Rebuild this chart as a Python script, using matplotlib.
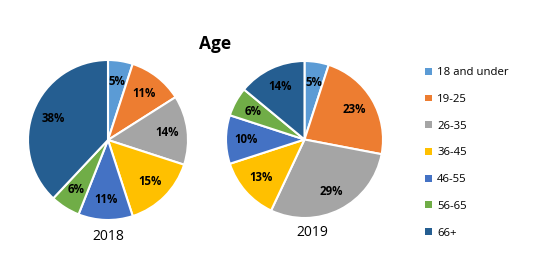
import matplotlib.pyplot as plt
from matplotlib.patches import Patch

plt.rcParams['font.family'] = ['Open Sans', 'DejaVu Sans']

# age groups and shares (%)
groups = ['18 and under', '19-25', '26-35', '36-45', '46-55', '56-65', '66+']
share_2018 = [5, 11, 14, 15, 11, 6, 38]
share_2019 = [5, 23, 29, 13, 10, 6, 14]
colors = ['#5B9BD5', '#ED7D31', '#A5A5A5', '#FFC000', '#4472C4', '#70AD47', '#255E91']

fig = plt.figure(figsize=(5.37, 2.69), dpi=100)

def draw_pie(rect, values, year, year_x, year_y):
    ax = fig.add_axes(rect)
    ax.pie(values, colors=colors, startangle=90, counterclock=False,
           autopct=lambda p: f'{p:.0f}%', pctdistance=0.74,
           wedgeprops=dict(edgecolor='white', linewidth=1.5),
           textprops=dict(fontsize=8.3, fontweight='bold', color='black'))
    ax.set_xlim(-1, 1)
    ax.set_ylim(-1, 1)
    ax.set_aspect('equal')
    ax.text(year_x, year_y, year, ha='center', va='center', fontsize=10)
    return ax

draw_pie([28 / 537, 49 / 269, 160 / 537, 160 / 269], share_2018, '2018', 0, -1.21)
draw_pie([226 / 537, 51 / 269, 157 / 537, 157 / 269], share_2019, '2019', 0.1, -1.19)

fig.text(215 / 537, 1 - 44 / 269, 'Age', ha='center', va='center',
         fontsize=12.5, fontweight='bold')

handles = [Patch(facecolor=c, edgecolor='none') for c in colors]
fig.legend(handles, groups, loc='upper left', bbox_to_anchor=(415 / 537, 1 - 57 / 269),
           frameon=False, fontsize=8.2, handlelength=0.55, handleheight=0.55,
           handletextpad=0.5, labelspacing=1.38)

fig.savefig('out.png', dpi=100)
